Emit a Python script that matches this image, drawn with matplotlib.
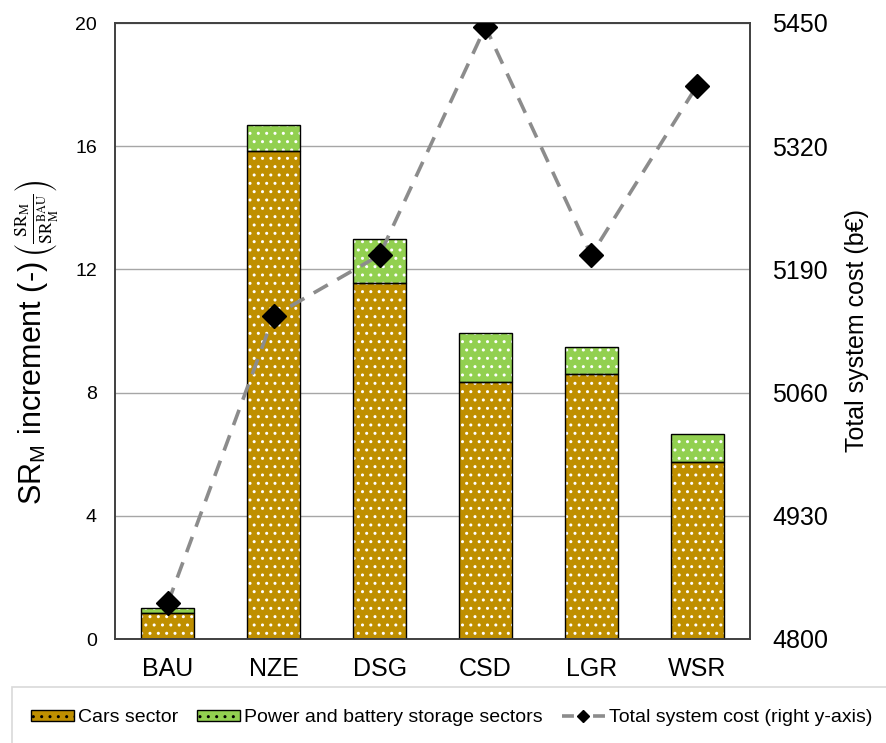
import matplotlib
matplotlib.use("Agg")
import matplotlib.pyplot as plt
import numpy as np
from matplotlib.patches import Rectangle, Patch
from matplotlib.lines import Line2D

plt.rcParams['font.family'] = ['Liberation Sans', 'DejaVu Sans']
plt.rcParams['mathtext.fontset'] = 'stix'

# scenario results
scenarios = ["BAU", "NZE", "DSG", "CSD", "LGR", "WSR"]
cars_sector = [0.83, 15.84, 11.57, 8.33, 8.60, 5.74]
power_storage = [0.17, 0.85, 1.41, 1.62, 0.88, 0.92]
system_cost = [4838, 5141, 5205, 5446, 5205, 5384]  # b€

left_ticks = [0, 4, 8, 12, 16, 20]
right_ticks = [4800, 4930, 5060, 5190, 5320, 5450]

cars_color = "#BF8F00"
power_color = "#92D050"
line_color = "#8C8C8C"

fig = plt.figure(figsize=(8.86, 7.43), dpi=100)
ax = fig.add_axes([115/886, 1-639/743, 635/886, 616/743])
ax2 = ax.twinx()

x = np.arange(len(scenarios))
w = 0.5

# dotted fills first (white hatch), then black outlines on top
ax.bar(x, cars_sector, w, color=cars_color, edgecolor="white", hatch="..", linewidth=0, zorder=2)
ax.bar(x, power_storage, w, bottom=cars_sector, color=power_color, edgecolor="white",
       hatch="..", linewidth=0, zorder=2)
ax.bar(x, cars_sector, w, fill=False, edgecolor="black", linewidth=1.0, zorder=3)
ax.bar(x, power_storage, w, bottom=cars_sector, fill=False, edgecolor="black", linewidth=1.0, zorder=3)

ax.set_ylim(0, 20)
ax.set_xlim(-0.5, len(scenarios) - 0.5)
ax.set_yticks(left_ticks)
ax.set_xticks(x)
ax.set_xticklabels(scenarios, fontsize=18)
ax.tick_params(axis="x", length=0, pad=13)
ax.tick_params(axis="y", length=0, pad=13, labelsize=14)
ax.grid(axis="y", color="#A6A6A6", linewidth=1.0, zorder=0)
ax.set_axisbelow(True)
for s in ax.spines.values():
    s.set_color("#404040")
    s.set_linewidth(1.2)

# left axis title: text part and the ratio drawn as two rotated pieces
ax.text(-0.129, 0.416, r"SR$_\mathregular{M}$ increment (-)", transform=ax.transAxes,
        rotation=90, fontsize=22, ha="center", va="center")
ax.text(-0.124, 0.683, r"$\left(\frac{\mathrm{SR_M}}{\mathrm{SR_M^{BAU}}}\right)$",
        transform=ax.transAxes, rotation=90, fontsize=18, ha="center", va="center")

ax2.plot(x, system_cost, color=line_color, linestyle=(0, (4.5, 3)), linewidth=2.6,
         marker="D", markersize=12.5, markerfacecolor="black", markeredgecolor="black", zorder=4)
ax2.set_ylim(4800, 5450)
ax2.set_yticks(right_ticks)
ax2.tick_params(axis="y", length=0, pad=16, labelsize=18)
ax2.set_ylabel("Total system cost (b€)", fontsize=18, labelpad=12)
for s in ax2.spines.values():
    s.set_color("#404040")
    s.set_linewidth(1.2)

# legend box along the bottom
fig.patches.append(Rectangle((12/886, -0.05), 1.0, 1-687/743 + 0.05, transform=fig.transFigure,
                             facecolor="white", edgecolor="#D9D9D9", linewidth=1.2))
handles = [
    Patch(facecolor=cars_color, edgecolor="black", hatch="..", linewidth=1.0),
    Patch(facecolor=power_color, edgecolor="black", hatch="..", linewidth=1.0),
    Line2D([], [], color=line_color, linewidth=2.6, linestyle=(0, (3.3, 5.3)), marker="D",
           markersize=6, markerfacecolor="black", markeredgecolor="black"),
]
labels = ["Cars sector", "Power and battery storage sectors", "Total system cost (right y-axis)"]
fig.legend(handles, labels, loc="center left", bbox_to_anchor=(31/886, 1-718/743), ncol=3,
           frameon=False, fontsize=14, handlelength=2.2, handleheight=0.55, handletextpad=0.2,
           columnspacing=1.0, borderpad=0, borderaxespad=0)

fig.savefig("out.png", dpi=100)
